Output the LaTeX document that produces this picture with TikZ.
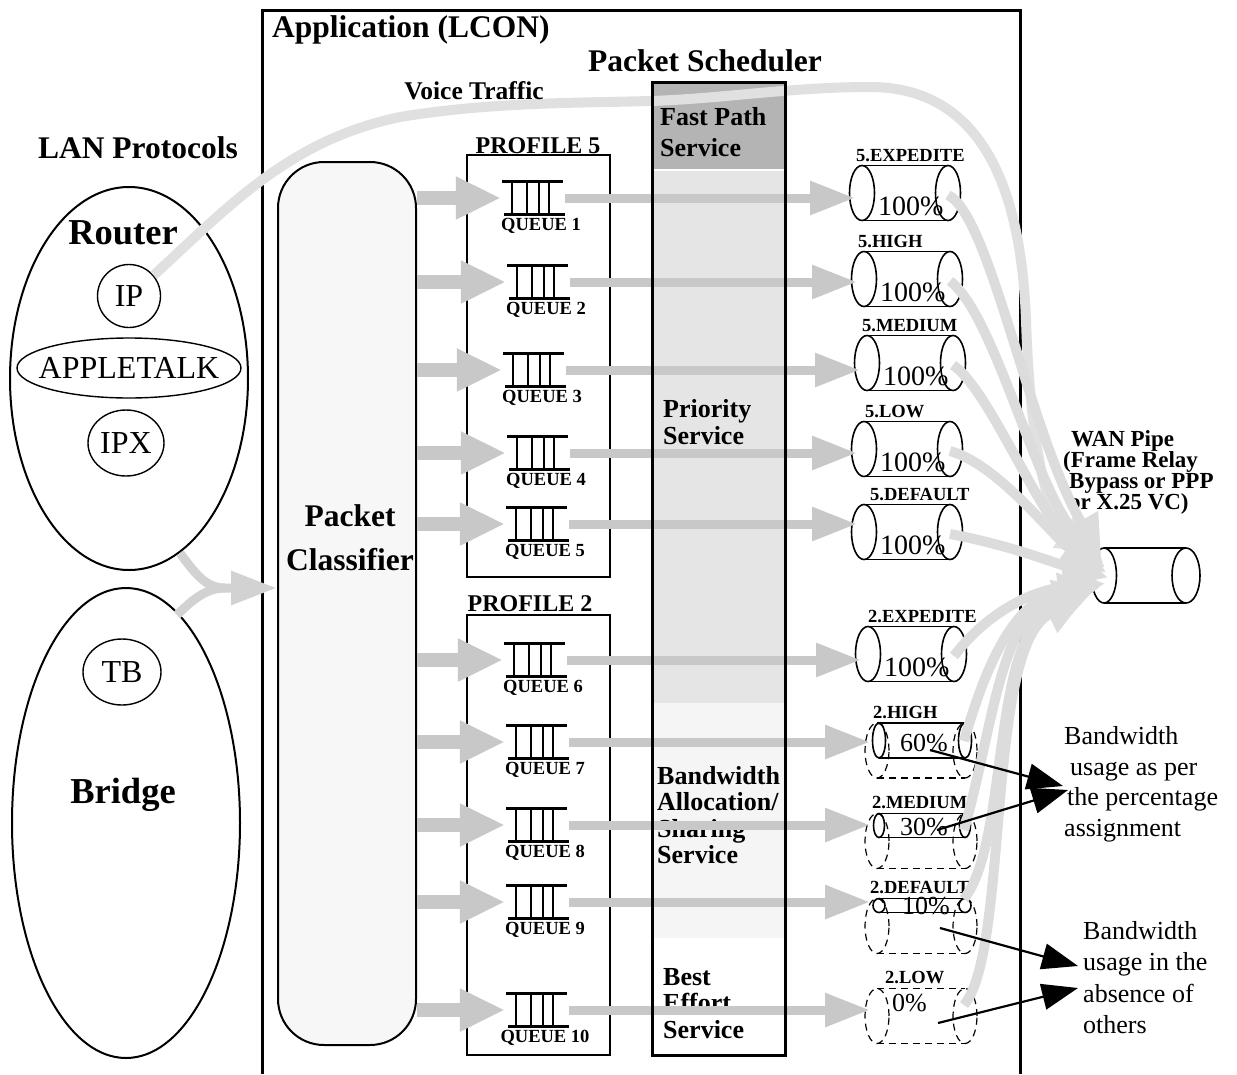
\documentclass[tikz,border=0pt]{standalone}
\usepackage{fontspec}
\setmainfont{Liberation Serif}
\usetikzlibrary{arrows.meta,calc,shapes.geometric}

\definecolor{arrowgray}{HTML}{C8C8C8}
\definecolor{flowgray}{HTML}{DCDCDC}
\definecolor{voicegray}{HTML}{E0E0E0}
\definecolor{lanarrow}{HTML}{D2D2D2}
\definecolor{fastfill}{HTML}{B4B4B4}
\definecolor{prifill}{HTML}{E5E5E5}
\definecolor{bwfill}{HTML}{F5F5F5}
\definecolor{clsfill}{HTML}{F7F7F7}

\tikzset{
  heading/.style={font=\bfseries\fontsize{31.5}{34}\selectfont, inner sep=0},
  bighead/.style={font=\bfseries\fontsize{36.5}{40}\selectfont, inner sep=0},
  proto/.style={draw, line width=1.4, inner sep=0, font=\fontsize{32}{34}\selectfont},
  protext/.style={inner sep=0, font=\fontsize{32}{34}\selectfont},
  svc/.style={font=\bfseries\fontsize{26}{#1}\selectfont, inner sep=0, align=left, anchor=base west},
  proflab/.style={font=\bfseries\fontsize{24}{26}\selectfont, inner sep=0, anchor=base},
  qlab/.style={font=\bfseries\fontsize{18.5}{20}\selectfont, inner sep=0, anchor=base},
  qbox/.style={inner sep=0, minimum width=64pt, minimum height=33pt},
  cyllab/.style={font=\bfseries\fontsize{18.5}{20}\selectfont, inner sep=0},
  pct/.style={font=\fontsize{28}{30}\selectfont, inner sep=0},
  pctsmall/.style={font=\fontsize{26}{28}\selectfont, inner sep=0},
  cylline/.style={line width=1.6},
  dcyl/.style={line width=1.2, dash pattern=on 7pt off 5pt},
  inarrow/.style={draw=arrowgray, line width=14, -{Triangle[length=45pt,width=40pt]}},
  outarrow/.style={draw=arrowgray, line width=9, -{Triangle[length=45pt,width=32pt]}},
  flow/.style={draw=flowgray, line width=10, -{Triangle[length=42pt,width=38pt]}},
  voice/.style={draw=voicegray, line width=10, -{Triangle[length=42pt,width=38pt]}},
  lanflow/.style={draw=lanarrow, line width=9},
  note/.style={line width=2.2, -{Triangle[length=36pt,width=26pt]}},
  notetext/.style={font=\fontsize{26}{#1}\selectfont, inner sep=0, align=left, anchor=base west},
  queueicon/.pic={
    \draw[line width=2.2] (-31,-16.5) -- (30,-16.5);
    \draw[line width=2.2] (-29,16.5) -- (32,16.5);
    \foreach \vx in {-21,-6,6,16} \draw[line width=2] (\vx,-16.5) -- (\vx,16.5);
  }
}

% queue: name, x, y, number
\newcommand\queuebox[4]{%
  \pic at (#2,#3) {queueicon};
  \node[qbox] (#1) at (#2,#3) {};
  \node[qlab] (#1-lab) at ({#2+8},{#3+32}) {QUEUE #4};
}

% solid class pipe: name, left ellipse x, centre y, label x, label
\newcommand\solidcyl[5]{%
  \node[inner sep=0, minimum width=111pt, minimum height=55pt] (#1) at ({#2+43},#3) {};
  \draw[cylline] (#2,#3) ellipse [x radius=12.5pt, y radius=27.5pt];
  \draw[cylline] ({#2+86},#3) ellipse [x radius=12.5pt, y radius=27.5pt];
  \draw[cylline] (#2,{#3-27.5}) -- ({#2+86},{#3-27.5});
  \draw[cylline] (#2,{#3+27.5}) -- ({#2+86},{#3+27.5});
  \coordinate (#1-in) at ({#2-7},#3);
  \coordinate (#1-out) at ({#2+86},{#3+2});
  \node[cyllab, anchor=base west] (#1-lab) at (#4,{#3-32}) {#5};
  \node[pct, anchor=base west] (#1-pct) at ({#2+16},{#3+22}) {100\%};
}

% shared-bandwidth pipe: name, centre y, label x, label, percent, percent x, percent baseline, flow start y
\newcommand\dashcyl[8]{%
  \node[inner sep=0, minimum width=112pt, minimum height=55pt] (#1) at (921,#2) {};
  \draw[dcyl] (877,#2) ellipse [x radius=12pt, y radius=27.5pt];
  \draw[dcyl] (965,#2) ellipse [x radius=12pt, y radius=27.5pt];
  \draw[dcyl] (877,{#2-27.5}) -- (965,{#2-27.5});
  \draw[dcyl] (877,{#2+27.5}) -- (965,{#2+27.5});
  \coordinate (#1-in) at (870,#2);
  \coordinate (#1-out) at (964,#8);
  \node[cyllab, anchor=base west] (#1-lab) at (#3,{#2-32.5}) {#4};
  \node[pctsmall, anchor=base west] (#1-pct) at (#6,#7) {#5};
}

% used share of a pipe: centre y of the full pipe, y radius, x radius
\newcommand\usedcyl[3]{%
  \draw[cylline] (879,{#1-27.5+#2}) ellipse [x radius=#3pt, y radius=#2pt];
  \draw[cylline] (965,{#1-27.5+#2}) ellipse [x radius=#3pt, y radius=#2pt];
  \draw[cylline] (879,{#1-27.5}) -- (965,{#1-27.5});
  \draw[cylline] (879,{#1-27.5+2*#2}) -- (965,{#1-27.5+2*#2});
}

\begin{document}
\begin{tikzpicture}[x=1pt,y=-1pt]
\useasboundingbox (0,0) rectangle (1237,1074);

% ---------- scheduler column background ----------
\fill[fastfill] (652,82) rectangle (785,169);
\fill[prifill] (652,171) rectangle (785,703);
\fill[bwfill] (652,703) rectangle (785,938);

% ---------- application frame ----------
\draw[line width=3] (262,1074) -- (262,10) -- (1020,10) -- (1020,1074);
\node[heading, anchor=base west] (apptitle) at (272,37) {Application (LCON)};
\node[heading, anchor=base] (schedtitle) at (705,71) {Packet Scheduler};
\node[heading, anchor=base] (lantitle) at (138,158) {LAN Protocols};

% ---------- packet classifier ----------
\node[draw, line width=2, fill=clsfill, rounded corners=46pt, minimum width=138pt,
      minimum height=883pt, inner sep=0] (clf) at (347,603.5) {};
\node[heading, align=center, anchor=base, font=\bfseries\fontsize{31.5}{44}\selectfont] (clftext) at (350,570) {Packet\\Classifier};

% ---------- profiles ----------
\node[draw, line width=1.8, minimum width=143pt, minimum height=422pt, inner sep=0] (prof5) at (538.5,366) {};
\node[proflab] (prof5-lab) at (538,153) {PROFILE 5};
\node[draw, line width=1.8, minimum width=143pt, minimum height=440pt, inner sep=0] (prof2) at (538.5,835) {};
\node[proflab] (prof2-lab) at (530,611) {PROFILE 2};

% ---------- router and bridge ----------
\node[draw, ellipse, line width=2, minimum width=238pt, minimum height=383pt, inner sep=0] (router) at (129,378.5) {};
\node[bighead, anchor=base] (routerlab) at (123,244) {Router};
\node[proto, circle, minimum size=63pt] (ip) at (129,296) {IP};
\node[protext] (atalk) at (129,368) {APPLETALK};
\draw[line width=1.4] (atalk.center) ellipse [x radius=112pt, y radius=30pt];
\node[proto, ellipse, minimum width=76pt, minimum height=66pt] (ipx) at (126,443) {IPX};
\node[draw, ellipse, line width=2, minimum width=228pt, minimum height=470pt, inner sep=0] (bridge) at (126,823) {};
\node[proto, ellipse, minimum width=78pt, minimum height=66pt] (tb) at (122,672) {TB};
\node[bighead, anchor=base] (bridgelab) at (123,803) {Bridge};

% ---------- service classes ----------
\node[svc=31] (fastsvc) at (660,156) {Fast Path\\Service};
\node[svc=27] (prisvc) at (663,444) {Priority\\Service};
\node[svc=26.5] (bwsvc) at (657,863.5) {Bandwidth\\Allocation/\\Sharing\\Service};
\node[svc=26.5] (besvc) at (663,1038) {Best\\Effort\\Service};

% ---------- queues ----------
\queuebox{q1}{533}{198}{1}
\queuebox{q2}{538}{282}{2}
\queuebox{q3}{534}{370}{3}
\queuebox{q4}{538}{453}{4}
\queuebox{q5}{537}{524}{5}
\queuebox{q6}{535}{660}{6}
\queuebox{q7}{537}{742}{7}
\queuebox{q8}{537}{825}{8}
\queuebox{q9}{537}{902}{9}
\queuebox{q10}{537}{1010}{10}

% ---------- class pipes ----------
\solidcyl{e5}{862}{193}{856}{5.EXPEDITE}
\solidcyl{h5}{864}{279}{858}{5.HIGH}
\solidcyl{m5}{867}{363}{862}{5.MEDIUM}
\solidcyl{l5}{864}{449}{865}{5.LOW}
\solidcyl{d5}{864}{532}{870}{5.DEFAULT}
\solidcyl{e2}{868}{654}{868}{2.EXPEDITE}
\dashcyl{h2}{750.5}{873}{2.HIGH}{60\%}{900}{751}{741}
\usedcyl{750.5}{17.5}{6.5}
\dashcyl{m2}{841}{872}{2.MEDIUM}{30\%}{900}{835}{830}
\usedcyl{841}{12}{5.5}
\dashcyl{d2}{926}{870}{2.DEFAULT}{10\%}{902}{914}{899}
\usedcyl{926}{7}{6}
\dashcyl{l2}{1016}{885}{2.LOW}{0\%}{892}{1011}{1005}

% ---------- WAN pipe ----------
\node[inner sep=0, minimum width=108.5pt, minimum height=55pt] (wan) at (1145.75,575.5) {};
\draw[cylline] (1104,575.5) ellipse [x radius=12.5pt, y radius=27.5pt];
\draw[cylline] (1186,575.5) ellipse [x radius=14pt, y radius=27.5pt];
\draw[cylline] (1104,548) -- (1186,548);
\draw[cylline] (1104,603) -- (1186,603);
\node[font=\bfseries\fontsize{23}{21}\selectfont, inner sep=0, align=left, anchor=base west] (wanlab)
  at (1063,509) {\hspace{8pt}WAN Pipe\\(Frame Relay\\\hspace{6pt}Bypass or PPP\\\hspace{6pt}or X.25 VC)};

% ---------- LAN traffic into the classifier ----------
\coordinate (rtout) at (180,553);
\coordinate (brout) at (177,615);
\coordinate (lanjoin) at (225,588);
\draw[lanflow] (brout) .. controls (195,597) and (208,588) .. (lanjoin);
\draw[lanflow, -{Triangle[length=46pt,width=32pt]}] (rtout) .. controls (198,578) and (208,588) .. (lanjoin) -- (clf.west |- lanjoin);

% ---------- classifier to queues ----------
\foreach \q in {q1,q2,q3,q4,q5,q6,q7,q8,q9,q10}
  \draw[inarrow] (clf.east |- \q) -- (\q.west);

% ---------- voice traffic path ----------
\draw[voice] (ip.40) .. controls (230,205) and (290,140) .. (400,117)
  .. controls (490,102) and (580,103) .. (650,101)
  .. controls (720,99) and (790,87) .. (870,87)
  .. controls (965,87) and (1020,160) .. (1026,320)
  .. controls (1030,445) and (1048,520) .. ($(wan.west)+(8,-22)$);
\node[font=\bfseries\fontsize{25.5}{27}\selectfont, inner sep=0, anchor=base] (voicelab) at (474,99) {Voice Traffic};

% ---------- queues to class pipes ----------
\draw[outarrow] (q1.east) -- (q1.east -| e5-in);
\draw[outarrow] (q2.east) -- (q2.east -| h5-in);
\draw[outarrow] (q3.east) -- (q3.east -| m5-in);
\draw[outarrow] (q4.east) -- (q4.east -| l5-in);
\draw[outarrow] (q5.east) -- (q5.east -| d5-in);
\draw[outarrow] (q6.east) -- (q6.east -| e2-in);
\draw[outarrow] (q7.east) -- (q7.east -| h2-in);
\draw[outarrow] (q8.east) -- (q8.east -| m2-in);
\draw[outarrow] (q9.east) -- (q9.east -| d2-in);
\draw[outarrow] (q10.east) -- (q10.east -| l2-in);

% ---------- scheduler border on top ----------
\node[draw, line width=3, minimum width=133pt, minimum height=973pt, inner sep=0] (sched) at (718.5,568.5) {};

% ---------- class pipes into the WAN pipe ----------
\draw[flow] (e5-out) .. controls (990,215) and (1028,430) .. ($(wan.west)+(10,-18)$);
\draw[flow] (h5-out) .. controls (995,315) and (1035,490) .. ($(wan.west)+(12,-12)$);
\draw[flow] (m5-out) .. controls (990,390) and (1040,520) .. ($(wan.west)+(14,-8)$);
\draw[flow] (l5-out) .. controls (1000,465) and (1055,540) .. ($(wan.west)+(15,-3)$);
\draw[flow] (d5-out) .. controls (1010,545) and (1060,565) .. ($(wan.west)+(17,2)$);
\draw[flow] (e2-out) .. controls (985,615) and (1030,590) .. ($(wan.west)+(14,8)$);
\draw[flow] (h2-out) .. controls (990,650) and (1020,598) .. ($(wan.west)+(9,12)$);
\draw[flow] (m2-out) .. controls (995,720) and (1000,612) .. ($(wan.west)+(4,15)$);
\draw[flow] (d2-out) .. controls (1010,840) and (990,632) .. ($(wan.west)+(0,18)$);
\draw[flow] (l2-out) .. controls (1010,950) and (985,645) .. ($(wan.west)+(-5,21)$);

% ---------- bandwidth notes ----------
\node[notetext=30.4] (bwnote1) at (1064,836) {Bandwidth\\\hspace{6pt}usage as per\\\hspace{3pt}the percentage\\assignment};
\node[notetext=31.5] (bwnote2) at (1083,1033.5) {Bandwidth\\usage in the\\absence of\\others};
\coordinate (nh2) at (930,750);
\coordinate (nm2) at (937,830);
\coordinate (nd2) at (940,928);
\coordinate (nl2) at (938,1023);
\coordinate (tip1a) at (1063,786);
\coordinate (tip1b) at (1068,790);
\coordinate (tip2a) at (1078,966);
\coordinate (tip2b) at (1078,988);
\draw[note] (nh2) -- (tip1a);
\draw[note] (nm2) -- (tip1b);
\draw[note] (nd2) -- (tip2a);
\draw[note] (nl2) -- (tip2b);
\end{tikzpicture}
\end{document}
